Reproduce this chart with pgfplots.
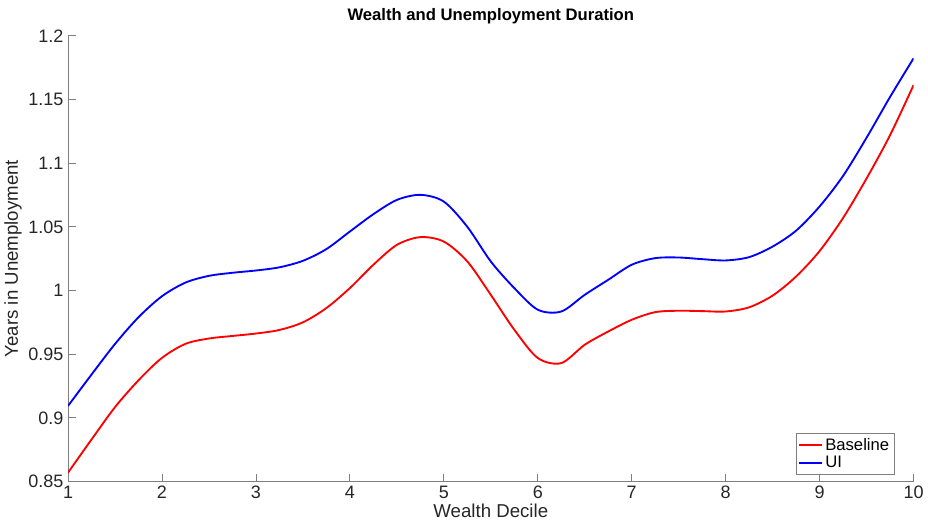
\documentclass[border=0pt]{standalone}
\usepackage{pgfplots}
\pgfplotsset{compat=1.18}
\usepackage{fontspec}
\setmainfont{Liberation Sans}
\definecolor{axgray}{HTML}{7F7F7F}
\definecolor{txtgray}{HTML}{262626}

\begin{document}
\begin{tikzpicture}
\begin{axis}[
    scale only axis,
    width=634.5pt, height=334.5pt,
    xmin=1, xmax=10, ymin=0.85, ymax=1.2,
    xtick={1,2,...,10},
    ytick={0.85,0.9,0.95,1,1.05,1.1,1.15,1.2},
    yticklabels={0.85,0.9,0.95,1,1.05,1.1,1.15,1.2},
    axis x line*=bottom, axis y line*=left,
    axis line style={axgray, line width=0.6pt, -},
    tick style={axgray, line width=0.6pt},
    tick align=inside, major tick length=6pt,
    ticklabel style={font=\fontsize{13.5}{15}\selectfont, text=txtgray},
    /pgf/number format/assume math mode=true,
    title={\textbf{Wealth and Unemployment Duration}},
    title style={font=\fontsize{12.5}{14}\selectfont, yshift=-3pt, inner sep=6pt},
    xlabel={Wealth Decile}, ylabel={Years in Unemployment},
    label style={font=\fontsize{14}{16}\selectfont, text=txtgray},
    xlabel style={yshift=3pt},
    ylabel style={yshift=-2pt},
    legend style={at={(0.977,0.016)}, anchor=south east,
        draw=axgray, font=\fontsize{12.5}{14}\selectfont,
        inner sep=1.5pt, row sep=-1pt},
    legend cell align=left,
    legend image code/.code={\draw[#1] (0pt,0pt) -- (17pt,0pt);},
]
% Baseline
\addplot[red, line width=1.4pt, smooth] coordinates {
    (1,0.857) (1.25,0.883) (1.5,0.9084) (1.75,0.9295) (2,0.9471)
    (2.25,0.9581) (2.5,0.9623) (2.75,0.9643) (3,0.9662) (3.25,0.969)
    (3.5,0.9750) (3.75,0.9862) (4,1.0019) (4.25,1.0202) (4.5,1.0358)
    (4.75,1.0419) (5,1.0384) (5.25,1.0228) (5.5,0.9966) (5.75,0.9692)
    (6,0.947) (6.25,0.943) (6.5,0.9574) (6.75,0.9678) (7,0.977)
    (7.25,0.983) (7.5,0.9841) (7.75,0.9838) (8,0.9835) (8.25,0.9868)
    (8.5,0.9960) (8.75,1.011) (9,1.031) (9.25,1.057) (9.5,1.088)
    (9.75,1.122) (10,1.1613)
};
\addlegendentry{Baseline}
% UI
\addplot[blue, line width=1.4pt, smooth] coordinates {
    (1,0.9094) (1.25,0.934) (1.5,0.9580) (1.75,0.979) (2,0.9955)
    (2.25,1.0062) (2.5,1.0115) (2.75,1.0139) (3,1.0157) (3.25,1.0182)
    (3.5,1.0233) (3.75,1.0325) (4,1.0463) (4.25,1.0599) (4.5,1.0711)
    (4.75,1.0751) (5,1.0698) (5.25,1.050) (5.5,1.0228) (5.75,1.0019)
    (6,0.9849) (6.25,0.9835) (6.5,0.9966) (6.75,1.0084) (7,1.0202)
    (7.25,1.0254) (7.5,1.0259) (7.75,1.0246) (8,1.0236) (8.25,1.0262)
    (8.5,1.0345) (8.75,1.047) (9,1.066) (9.25,1.09) (9.5,1.12)
    (9.75,1.152) (10,1.1823)
};
\addlegendentry{UI}
\end{axis}
\end{tikzpicture}
\end{document}
